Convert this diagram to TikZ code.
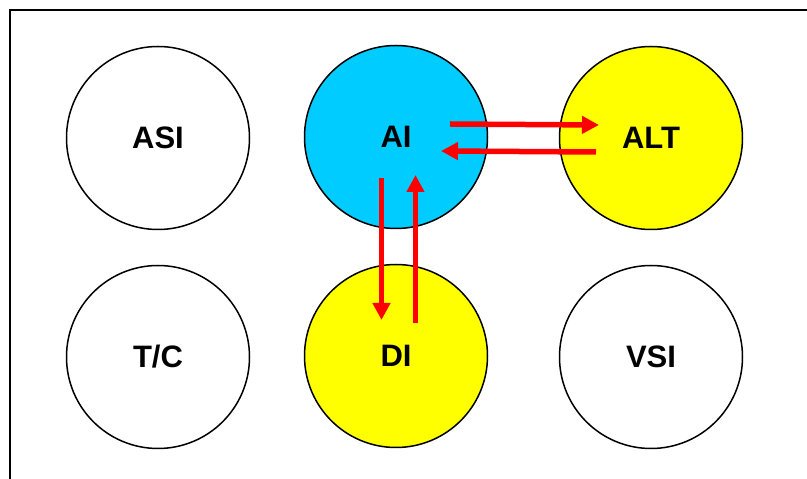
\documentclass[tikz,border=0pt]{standalone}
\usepackage{fontspec}
\setmainfont{Liberation Sans}
\usetikzlibrary{arrows.meta}
\definecolor{aiblue}{RGB}{0,204,255}
\definecolor{dyellow}{RGB}{255,255,0}
\tikzstyle{stage} = [circle, draw=black, line width=1.5pt, minimum size=183pt, inner sep=0pt, font=\fontsize{31}{36}\selectfont\bfseries]
\tikzstyle{flow} = [draw=red, line width=5.5pt, -{Triangle[length=17pt,width=17pt]}]

\begin{document}
\begin{tikzpicture}[x=1pt,y=1pt]
        \useasboundingbox (0,0) rectangle (807,479);
        \clip (0,0) rectangle (807,479);
        \draw[line width=2pt] (10,-20) rectangle (840,469);

        \node[stage] (asi) at (158,341) {ASI};
        \node[stage, fill=aiblue] (ai) at (396,342) {AI};
        \node[stage, fill=dyellow] (alt) at (651,341) {ALT};

        \node[stage] (tc) at (158,122) {T/C};
        \node[stage, fill=dyellow] (di) at (396,123) {DI};
        \node[stage] (vsi) at (651,122) {VSI};

        \draw[flow] ([shift={(54,13)}]ai.center) -- ([shift={(-52,13)}]alt.center);
        \draw[flow] ([shift={(-55,-14)}]alt.center) -- ([shift={(45,-14)}]ai.center);
        \draw[flow] ([shift={(-14.5,-41)}]ai.center) -- ([shift={(-14.5,36)}]di.center);
        \draw[flow] ([shift={(19.5,33)}]di.center) -- ([shift={(19.5,-38)}]ai.center);
\end{tikzpicture}
\end{document}
